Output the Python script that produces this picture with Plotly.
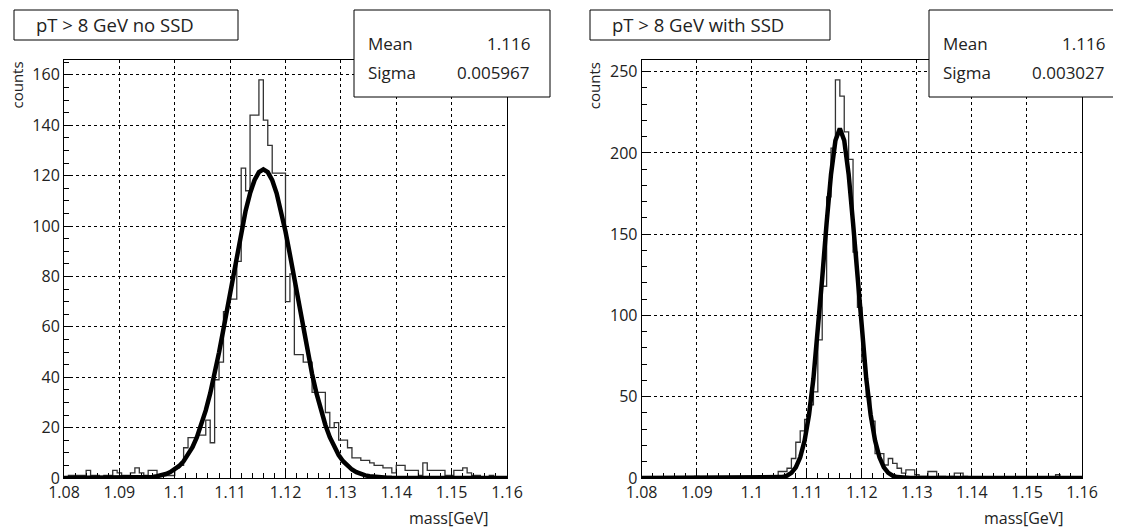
import numpy as np
import plotly.graph_objects as go

# histogram contents, 100 bins from 1.08 to 1.16 GeV
counts_no_ssd = [
    0, 1, 1, 1, 1, 3, 1, 1, 0, 1,
    1, 3, 2, 1, 1, 2, 4, 2, 1, 3,
    3, 1, 1, 1, 1, 4, 5, 12, 16, 16,
    17, 17, 23, 14, 39, 46, 66, 71, 71, 86,
    123, 114, 144, 144, 158, 142, 132, 121, 121, 121,
    70, 81, 49, 49, 46, 46, 34, 34, 34, 26,
    20, 22, 15, 15, 12, 8, 8, 7, 7, 6,
    5, 5, 4, 4, 2, 5, 5, 3, 3, 3,
    1, 6, 3, 3, 3, 3, 1, 1, 3, 3,
    4, 2, 1, 1, 0, 0, 1, 0, 0, 0,
]
counts_with_ssd = [
    0, 0, 0, 0, 0, 0, 0, 0, 0, 0,
    0, 0, 1, 0, 0, 0, 0, 0, 0, 0,
    0, 0, 0, 0, 0, 0, 0, 1, 1, 1,
    1, 4, 4, 6, 12, 22, 29, 36, 45, 53,
    85, 118, 173, 203, 245, 235, 213, 196, 139, 105,
    72, 50, 35, 15, 15, 8, 12, 9, 6, 3,
    5, 5, 2, 1, 1, 4, 4, 1, 1, 0,
    1, 3, 3, 1, 0, 0, 0, 0, 0, 0,
    0, 0, 0, 0, 0, 0, 0, 0, 0, 0,
    0, 0, 0, 0, 2, 0, 0, 0, 0, 0,
]

# gaussian fit parameters (stat box values + fitted height)
fit_no_ssd = dict(amp=122.5, mean=1.116, sigma=0.005967)
fit_with_ssd = dict(amp=215.0, mean=1.116, sigma=0.003027)

titles = ["pT > 8 GeV no SSD", "pT > 8 GeV with SSD"]
stat_mean = ["1.116", "1.116"]
stat_sigma = ["0.005967", "0.003027"]

x_ticks = [1.08, 1.09, 1.10, 1.11, 1.12, 1.13, 1.14, 1.15, 1.16]
x_ticktext = ["1.08", "1.09", "1.1", "1.11", "1.12", "1.13", "1.14", "1.15", "1.16"]

W, H = 1121, 529
OFF = 8  # page body margin; positions below are page pixels
FONT = "Open Sans"


def px_x(p):
    return (p - OFF) / W


def px_y(p):
    return 1 - (p - OFF) / H


edges = 1.08 + 0.0008 * np.arange(101)
xfit = np.linspace(1.08, 1.16, 101)

fig = go.Figure()

panels = [
    (counts_no_ssd, fit_no_ssd, "x", "y"),
    (counts_with_ssd, fit_with_ssd, "x2", "y2"),
]
for counts, fit, xa, ya in panels:
    fig.add_trace(go.Scatter(
        x=edges, y=list(counts) + [counts[-1]],
        mode="lines", line=dict(shape="hv", color="#333", width=1.3),
        xaxis=xa, yaxis=ya, showlegend=False, hoverinfo="skip",
    ))
    yfit = fit["amp"] * np.exp(-0.5 * ((xfit - fit["mean"]) / fit["sigma"]) ** 2)
    fig.add_trace(go.Scatter(
        x=xfit, y=yfit, mode="lines",
        line=dict(color="black", width=4.5),
        xaxis=xa, yaxis=ya, showlegend=False, hoverinfo="skip",
    ))

axis_common = dict(
    showline=True, mirror=True, linecolor="black", linewidth=1,
    showgrid=True, gridcolor="black", gridwidth=1, griddash="dot",
    zeroline=False, ticks="inside", tickcolor="black", automargin=False,
    tickfont=dict(size=16, color="#222", family=FONT),
)

xdom = [[64, 507], [641.7, 1082]]
ydom = [px_y(478), px_y(60)]
yranges = [[0, 165.9], [0, 257.2]]
ydticks = [(20, 5), (50, 10)]

layout = dict(
    width=W, height=H,
    margin=dict(l=0, r=0, t=0, b=0, autoexpand=False),
    paper_bgcolor="white", plot_bgcolor="white",
    font=dict(family=FONT, color="#222"),
)
for i in range(2):
    sfx = "" if i == 0 else "2"
    layout["xaxis" + sfx] = dict(
        axis_common, domain=[px_x(xdom[i][0]), px_x(xdom[i][1])],
        range=[1.08, 1.16], tickvals=x_ticks, ticktext=x_ticktext,
        ticklen=9, anchor="y" + sfx,
        minor=dict(ticks="inside", dtick=0.002, ticklen=5, tickcolor="black", showgrid=False),
    )
    layout["yaxis" + sfx] = dict(
        axis_common, domain=ydom, range=yranges[i],
        dtick=ydticks[i][0], tick0=0, ticklen=9, anchor="x" + sfx,
        minor=dict(ticks="inside", dtick=ydticks[i][1], ticklen=5, tickcolor="black", showgrid=False),
    )
fig.update_layout(**layout)

shapes = []
annotations = []
title_boxes = [(14, 238), (590, 830)]
stat_boxes = [(354, 550), (929, 1135)]
for i in range(2):
    tx0, tx1 = title_boxes[i]
    shapes.append(dict(type="rect", xref="paper", yref="paper",
                       x0=px_x(tx0), x1=px_x(tx1), y0=px_y(40), y1=px_y(10),
                       line=dict(color="black", width=1), fillcolor="white", layer="above"))
    annotations.append(dict(text=titles[i], xref="paper", yref="paper",
                            x=px_x(tx0 + 20), y=px_y(25), xanchor="left", yanchor="middle",
                            showarrow=False, font=dict(size=18.5, color="#222", family=FONT)))
    sx0, sx1 = stat_boxes[i]
    shapes.append(dict(type="rect", xref="paper", yref="paper",
                       x0=px_x(sx0), x1=px_x(sx1), y0=px_y(97), y1=px_y(10),
                       line=dict(color="black", width=1), fillcolor="white", layer="above"))
    for label, val, yy in [("Mean", stat_mean[i], 44), ("Sigma", stat_sigma[i], 73)]:
        annotations.append(dict(text=label, xref="paper", yref="paper",
                                x=px_x(sx0 + 12), y=px_y(yy), xanchor="left", yanchor="middle",
                                showarrow=False, font=dict(size=17, color="#222", family=FONT)))
        annotations.append(dict(text=val, xref="paper", yref="paper",
                                x=px_x(sx0 + 178), y=px_y(yy), xanchor="right", yanchor="middle",
                                showarrow=False, font=dict(size=17, color="#222", family=FONT)))
    # axis titles
    annotations.append(dict(text="counts", xref="paper", yref="paper", textangle=-90,
                            x=px_x(xdom[i][0] - 48), y=px_y(60), xanchor="center", yanchor="top",
                            showarrow=False, font=dict(size=15, color="#222", family=FONT)))
    annotations.append(dict(text="mass[GeV]", xref="paper", yref="paper",
                            x=px_x(xdom[i][1] - 16), y=px_y(518), xanchor="right", yanchor="middle",
                            showarrow=False, font=dict(size=16, color="#222", family=FONT)))

fig.update_layout(shapes=shapes, annotations=annotations)

fig.write_html("out.html")
